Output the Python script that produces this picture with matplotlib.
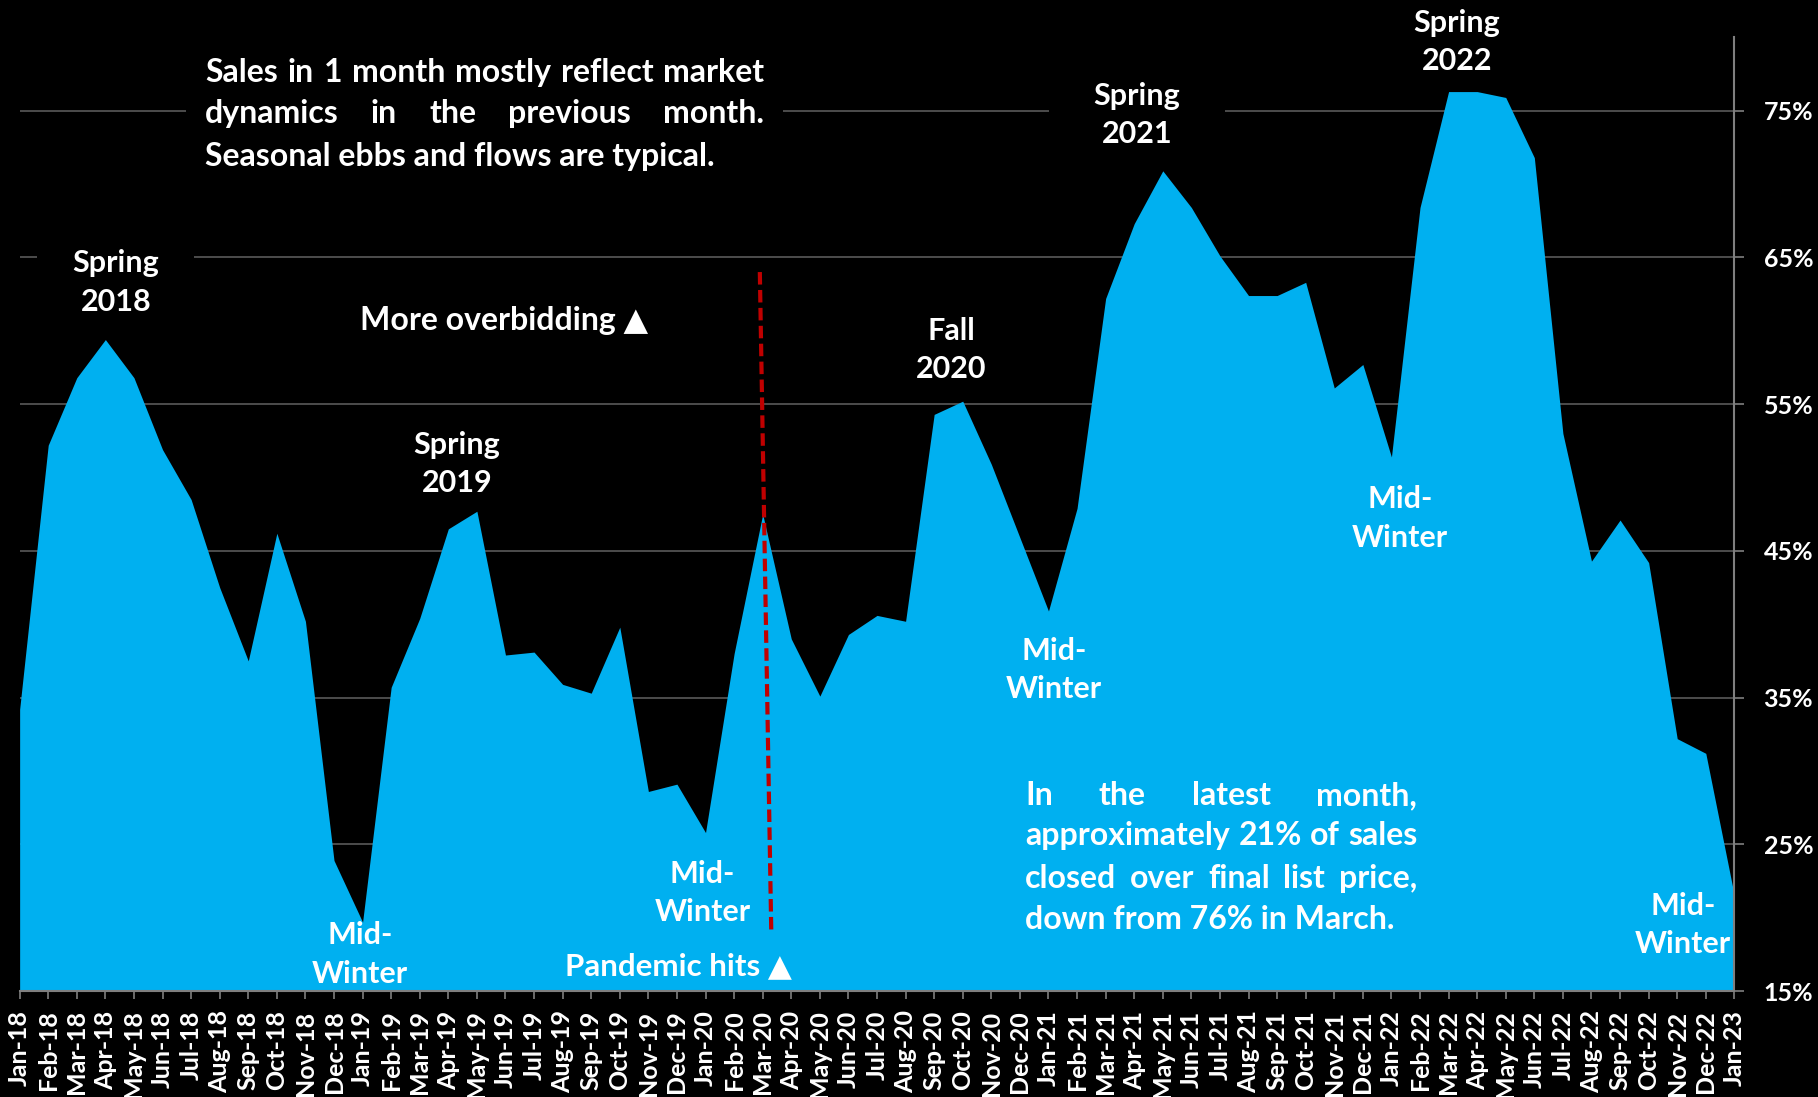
import matplotlib
matplotlib.use('Agg')
import matplotlib.pyplot as plt
import numpy as np
from matplotlib.patches import Rectangle

months = ['Jan-18', 'Feb-18', 'Mar-18', 'Apr-18', 'May-18', 'Jun-18', 'Jul-18', 'Aug-18', 'Sep-18', 'Oct-18',
          'Nov-18', 'Dec-18', 'Jan-19', 'Feb-19', 'Mar-19', 'Apr-19', 'May-19', 'Jun-19', 'Jul-19', 'Aug-19',
          'Sep-19', 'Oct-19', 'Nov-19', 'Dec-19', 'Jan-20', 'Feb-20', 'Mar-20', 'Apr-20', 'May-20', 'Jun-20',
          'Jul-20', 'Aug-20', 'Sep-20', 'Oct-20', 'Nov-20', 'Dec-20', 'Jan-21', 'Feb-21', 'Mar-21', 'Apr-21',
          'May-21', 'Jun-21', 'Jul-21', 'Aug-21', 'Sep-21', 'Oct-21', 'Nov-21', 'Dec-21', 'Jan-22', 'Feb-22',
          'Mar-22', 'Apr-22', 'May-22', 'Jun-22', 'Jul-22', 'Aug-22', 'Sep-22', 'Oct-22', 'Nov-22', 'Dec-22',
          'Jan-23']
pct_over_list = [34.2, 52.2, 56.8, 59.4, 56.8, 51.9, 48.5, 42.5, 37.5, 46.2,
                 40.2, 23.9, 19.7, 35.7, 40.4, 46.5, 47.7, 37.9, 38.1, 35.9,
                 35.3, 39.8, 28.6, 29.1, 25.8, 38.0, 47.5, 39.0, 35.1, 39.3,
                 40.6, 40.2, 54.3, 55.2, 50.9, 45.9, 40.9, 47.9, 62.2, 67.3,
                 70.9, 68.4, 65.1, 62.4, 62.4, 63.3, 56.1, 57.7, 51.4, 68.4,
                 76.3, 76.3, 75.9, 71.8, 53.0, 44.3, 47.1, 44.2, 32.2, 31.2,
                 21.5]
y_ticks = [15, 25, 35, 45, 55, 65, 75]

# annotation labels: (text, x, y)
season_labels = [
    ('Spring\n2018', 3.37, 63.3),
    ('Spring\n2019', 15.3, 50.9),
    ('Mid-\nWinter', 11.9, 17.5),
    ('Mid-\nWinter', 23.9, 21.7),
    ('Fall\n2020', 32.6, 58.7),
    ('Mid-\nWinter', 36.2, 36.9),
    ('Spring\n2021', 39.1, 74.7),
    ('Mid-\nWinter', 48.3, 47.2),
    ('Spring\n2022', 50.3, 79.7),
    ('Mid-\nWinter', 58.2, 19.5),
]
note_top = ['Sales in 1 month mostly reflect market',
            'dynamics in the previous month.',
            'Seasonal ebbs and flows are typical.']
note_bottom = ['In the latest month,',
               'approximately 21% of sales',
               'closed over final list price,',
               'down from 76% in March.']

FONT = ['Lato', 'DejaVu Sans']
plt.rcParams['font.family'] = FONT
plt.rcParams['font.weight'] = 'bold'

BLUE = '#00B0F0'
GREY = '#7F7F7F'

fig = plt.figure(figsize=(18.18, 10.97), dpi=100, facecolor='black')
ax = fig.add_axes([0.0108, 0.0966, 0.9432, 0.8694])
ax.set_facecolor('black')

x = np.arange(len(months))
ax.fill_between(x, 15, pct_over_list, color=BLUE, lw=0, zorder=2)

ax.set_xlim(0, len(months) - 1)
ax.set_ylim(15, 80)

ax.set_xticks(x)
ax.set_xticklabels(months, rotation=90, fontsize=18, color='white', fontweight='bold')
ax.set_yticks(y_ticks)
ax.set_yticklabels([f'{v}%' for v in y_ticks], fontsize=18, color='white', fontweight='bold')
ax.yaxis.tick_right()
ax.tick_params(axis='x', length=6, width=1.2, color=GREY, pad=8)
ax.tick_params(axis='y', length=7, width=1.2, color=GREY, pad=14)

for s in ['top', 'left']:
    ax.spines[s].set_visible(False)
for s in ['bottom', 'right']:
    ax.spines[s].set_color(GREY)
    ax.spines[s].set_linewidth(1.5)
ax.spines['bottom'].set_zorder(3)

ax.yaxis.grid(True, color='#595959', lw=1.2, zorder=0.5)
ax.set_axisbelow(True)

# pandemic marker line
ev = months.index('Mar-20')
ax.plot([ev - 0.1, ev + 0.3], [64.0, 19.1], color='#C00000', lw=3, ls=(0, (3, 1.3)), zorder=4)

# black box behind the top note
ax.add_patch(Rectangle((5.82, 70.6), 20.9, 9.0, facecolor='black', edgecolor='none', zorder=1.5))

for txt, lx, ly in season_labels:
    kw = dict(ha='center', va='center', fontsize=22, color='white', fontweight='bold', linespacing=1.45)
    if txt.startswith('Spring\n2018'):
        ax.text(lx, ly, txt, zorder=1.6, bbox=dict(boxstyle='square,pad=1.15', fc='black', ec='none'), **kw)
    elif txt.startswith('Spring\n2021'):
        ax.text(lx, ly, txt, zorder=1.6, bbox=dict(boxstyle='square,pad=1.45', fc='black', ec='none'), **kw)
    else:
        ax.text(lx, ly, txt, zorder=5, **kw)

ax.text(16.94, 60.7, 'More overbidding \u25B2', ha='center', va='center', fontsize=23,
        color='white', fontweight='bold', zorder=5)
ax.text(23.04, 16.7, 'Pandemic hits \u25B2', ha='center', va='center', fontsize=22.5,
        color='white', fontweight='bold', zorder=5)


def justified(lines, x0, x1, ys, size):
    r = fig.canvas.get_renderer()
    left = ax.transData.transform((x0, 0))[0]
    right = ax.transData.transform((x1, 0))[0]
    inv = ax.transData.inverted()
    for k, (line, y) in enumerate(zip(lines, ys)):
        words = line.split()
        if k == len(lines) - 1:
            ax.text(x0, y, line, ha='left', va='center', fontsize=size, color='white',
                    fontweight='bold', zorder=5)
            continue
        widths = []
        for w in words:
            t = fig.text(0, 0, w, fontsize=size, fontweight='bold')
            widths.append(t.get_window_extent(r).width)
            t.remove()
        gap = (right - left - sum(widths)) / (len(words) - 1)
        xp = left
        for w, wd in zip(words, widths):
            xd = inv.transform((xp, 0))[0]
            ax.text(xd, y, w, ha='left', va='center', fontsize=size, color='white',
                    fontweight='bold', zorder=5)
            xp += wd + gap


justified(note_top, 6.49, 26.05, [77.6, 74.8, 71.9], 23)
justified(note_bottom, 35.19, 48.9, [28.3, 25.6, 22.7, 19.9], 23)

fig.savefig('out.png', dpi=100, facecolor='black')
